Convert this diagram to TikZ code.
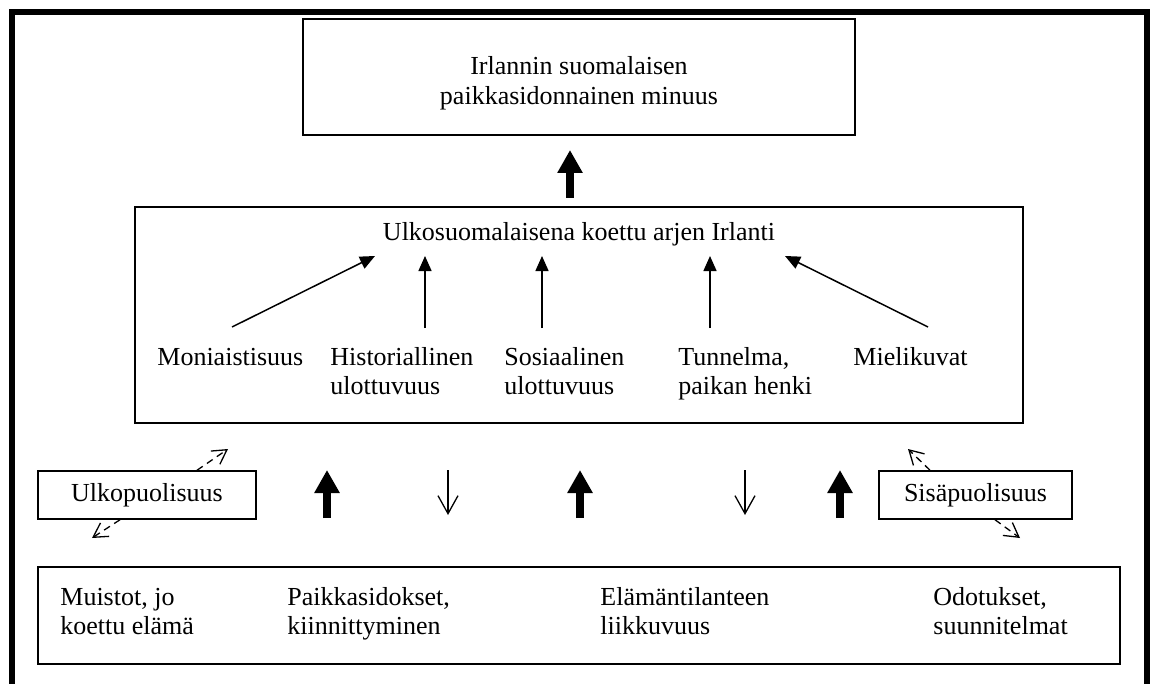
\documentclass[tikz,border=0pt]{standalone}
\usepackage{fontspec}
\setmainfont{Liberation Serif}
\usetikzlibrary{arrows.meta}
\begin{document}
\begin{tikzpicture}[x=0.5pt,y=-0.5pt,
  box/.style={draw, line width=0.75pt, inner sep=0pt},
  txt/.style={font=\fontsize{13pt}{14.75pt}\selectfont, inner sep=0pt, align=left},
  thinarrow/.style={line width=0.75pt, -{Triangle[length=7.5pt,width=6.5pt]}},
  thickarrow/.style={line width=4pt, -{Triangle[length=11.5pt,width=12pt]}},
  downarrow/.style={line width=0.65pt, -{Straight Barb[length=9pt,width=10pt]}},
  dasharrow/.style={line width=0.65pt, dash pattern=on 3.5pt off 2.5pt, -{Straight Barb[length=7pt,width=8pt]}},
]
\useasboundingbox (0,0) rectangle (1150,684);
\fill[white] (0,0) rectangle (1150,684);
% frame
\draw[line width=3pt] (12,720) -- (12,12) -- (1147,12) -- (1147,720);

% boxes
\node[box, minimum width=276pt, minimum height=58pt] (top) at (579,77) {};
\node[txt, align=center] (toptext) at (579,83) {Irlannin suomalaisen\\paikkasidonnainen minuus};
\node[box, minimum width=444pt, minimum height=108pt] (mid) at (579,315) {};
\node[box, txt, align=center, minimum width=109pt, minimum height=24pt] (ulko) at (147,495) {Ulkopuolisuus};
\node[box, txt, align=center, minimum width=96.5pt, minimum height=24pt] (sisa) at (975.5,495) {Sisäpuolisuus};
\node[box, minimum width=541pt, minimum height=48.5pt] (bottom) at (579,615.5) {};

% middle texts
\node[txt, anchor=base] (title) at (579,241) {Ulkosuomalaisena koettu arjen Irlanti};
\node[txt, anchor=base west] (moni) at (157,365) {Moniaistisuus};
\node[txt, anchor=base west] (hist) at (330,394.5) {Historiallinen\\ulottuvuus};
\node[txt, anchor=base west] (sos) at (504,394.5) {Sosiaalinen\\ulottuvuus};
\node[txt, anchor=base west] (tun) at (678,394.5) {Tunnelma,\\paikan henki};
\node[txt, anchor=base west] (mie) at (853,365) {Mielikuvat};

% bottom texts
\node[txt, anchor=base west] (muis) at (60,634.5) {Muistot, jo\\koettu elämä};
\node[txt, anchor=base west] (paik) at (287,634.5) {Paikkasidokset,\\kiinnittyminen};
\node[txt, anchor=base west] (elam) at (600,634.5) {Elämäntilanteen\\liikkuvuus};
\node[txt, anchor=base west] (odot) at (933,634.5) {Odotukset,\\suunnitelmat};

% coordinates for arrows in middle box
\coordinate (m0) at (232,327); \coordinate (m1) at (375,256);
\coordinate (h0) at (425,328); \coordinate (h1) at (425,256);
\coordinate (s0) at (542,328); \coordinate (s1) at (542,256);
\coordinate (t0) at (710,328); \coordinate (t1) at (710,256);
\coordinate (i0) at (928,327); \coordinate (i1) at (785,256);
\draw[thinarrow] (m0) -- (m1);
\draw[thinarrow] (h0) -- (h1);
\draw[thinarrow] (s0) -- (s1);
\draw[thinarrow] (t0) -- (t1);
\draw[thinarrow] (i0) -- (i1);

% thick arrows
\coordinate (a0) at (570,198); \coordinate (a1) at (570,150);
\draw[thickarrow] (a0) -- (a1);
\coordinate (b0) at (327,518); \coordinate (b1) at (327,470);
\coordinate (c0) at (580,518); \coordinate (c1) at (580,470);
\coordinate (d0) at (840,518); \coordinate (d1) at (840,470);
\draw[thickarrow] (b0) -- (b1);
\draw[thickarrow] (c0) -- (c1);
\draw[thickarrow] (d0) -- (d1);

% thin down arrows
\coordinate (e0) at (448,470); \coordinate (e1) at (448,515);
\coordinate (f0) at (745,470); \coordinate (f1) at (745,515);
\draw[downarrow] (e0) -- (e1);
\draw[downarrow] (f0) -- (f1);

% dashed arrows
\coordinate (u1) at (228,449); \coordinate (u2) at (92,538);
\coordinate (v1) at (908,449); \coordinate (v2) at (1020,538);
\draw[dasharrow] (ulko.north east -| 197,0) -- (u1);
\draw[dasharrow] (ulko.south west -| 120,0) -- (u2);
\draw[dasharrow] (sisa.north west -| 930,0) -- (v1);
\draw[dasharrow] (sisa.south east -| 995,0) -- (v2);
\end{tikzpicture}
\end{document}
